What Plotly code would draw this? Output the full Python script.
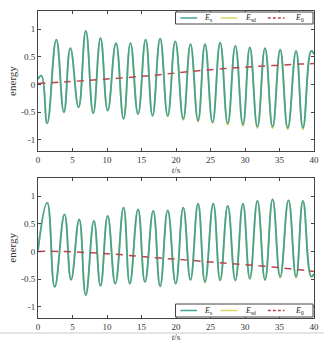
import plotly.graph_objects as go

# ---- data ----
t_top = [0, 0.5, 1.33, 2.65, 3.75, 4.69, 5.88, 6.93, 8.0, 9.06, 10.1, 11.3, 12.4, 13.4, 14.5,
         15.6, 16.6, 17.7, 18.8, 19.9, 21.05, 22.1, 23.2, 24.2, 25.3, 26.4, 27.5, 28.6, 29.7,
         30.7, 31.8, 32.9, 34.0, 35.1, 36.2, 37.4, 38.4, 39.6, 40]
es_top = [0.10, 0.16, -0.70, 0.81, -0.50, 0.66, -0.41, 0.97, -0.52, 0.84, -0.47, 0.75, -0.62,
          0.75, -0.53, 0.81, -0.56, 0.83, -0.56, 0.78, -0.62, 0.73, -0.65, 0.73, -0.68, 0.76,
          -0.70, 0.70, -0.72, 0.67, -0.76, 0.66, -0.76, 0.63, -0.78, 0.61, -0.78, 0.61, 0.55]
esd_top = [0.10, 0.16, -0.70, 0.81, -0.50, 0.66, -0.41, 0.97, -0.52, 0.84, -0.47, 0.75, -0.62,
           0.75, -0.54, 0.81, -0.57, 0.83, -0.58, 0.78, -0.64, 0.73, -0.67, 0.73, -0.70, 0.76,
           -0.73, 0.70, -0.75, 0.67, -0.79, 0.66, -0.79, 0.63, -0.81, 0.61, -0.81, 0.61, 0.55]
t0_top = [0, 4, 10, 17, 20, 27, 32, 38, 40]
e0_top = [0.02, 0.05, 0.10, 0.17, 0.21, 0.29, 0.33, 0.37, 0.38]

t_bot = [0, 1.33, 2.42, 3.84, 4.79, 5.97, 6.92, 8.1, 9.06, 10.1, 11.2, 12.4, 13.3, 14.5, 15.5,
         16.7, 17.7, 18.8, 19.96, 21.05, 22.1, 23.2, 24.2, 25.4, 26.4, 27.5, 28.6, 29.7, 30.7,
         31.8, 32.9, 34.0, 35.1, 36.3, 37.4, 38.4, 39.6, 40]
es_bot = [0.02, 0.88, -0.64, 0.67, -0.51, 0.58, -0.79, 0.55, -0.62, 0.64, -0.58, 0.79, -0.58,
          0.76, -0.55, 0.73, -0.63, 0.74, -0.58, 0.79, -0.51, 0.86, -0.55, 0.86, -0.52, 0.82,
          -0.52, 0.86, -0.49, 0.91, -0.51, 0.94, -0.46, 0.92, -0.46, 0.91, -0.45, -0.40]
esd_bot = [0.02, 0.88, -0.64, 0.67, -0.51, 0.58, -0.79, 0.55, -0.62, 0.64, -0.58, 0.79, -0.58,
           0.76, -0.55, 0.73, -0.63, 0.74, -0.58, 0.79, -0.52, 0.86, -0.56, 0.86, -0.53, 0.82,
           -0.53, 0.86, -0.50, 0.91, -0.52, 0.94, -0.47, 0.92, -0.47, 0.91, -0.46, -0.40]
t0_bot = [0, 3, 10, 17.7, 20, 27, 34, 38.6, 40]
e0_bot = [0.0, 0.0, -0.04, -0.12, -0.14, -0.21, -0.28, -0.34, -0.36]

x_ticks = [0, 5, 10, 15, 20, 25, 30, 35, 40]
x_labels = ["0", "5", "10", "15", "20", "25", "30", "35", "40"]
y_ticks = [-1, -0.5, 0, 0.5, 1]
y_labels = ["-1", "-0.5", "0", "0.5", "1"]
names = ["<i>E</i><sub>s</sub>", "<i>E</i><sub>sd</sub>", "<i>E</i><sub>0</sub>"]

# ---- styles ----
C_S = "#43a394"
C_SD = "#dcd566"
C_0 = "#b8474a"
FONT = "Liberation Serif"
W, H = 324, 346
ML, MR, MT, MB = 38, 5, 11, 28
PW, PH = W - ML - MR, H - MT - MB

fig = go.Figure()

for row, (t, es, esd, t0, e0) in enumerate([
        (t_top, es_top, esd_top, t0_top, e0_top),
        (t_bot, es_bot, esd_bot, t0_bot, e0_bot)]):
    xa = "x" if row == 0 else "x2"
    ya = "y" if row == 0 else "y2"
    fig.add_trace(go.Scatter(x=t, y=esd, mode="lines", name=names[1], xaxis=xa, yaxis=ya,
                             line=dict(color=C_SD, width=1.8, shape="spline", smoothing=1.3)))
    fig.add_trace(go.Scatter(x=t, y=es, mode="lines", name=names[0], xaxis=xa, yaxis=ya,
                             line=dict(color=C_S, width=1.8, shape="spline", smoothing=1.3)))
    fig.add_trace(go.Scatter(x=t0, y=e0, mode="lines", name=names[2], xaxis=xa, yaxis=ya,
                             line=dict(color=C_0, width=1.5, dash="7px,6px", shape="spline")))

axis_common = dict(showline=True, linecolor="#444", linewidth=1, mirror="ticks",
                   ticks="inside", ticklen=3, tickcolor="#444", showgrid=False,
                   zeroline=False, tickfont=dict(family=FONT, size=9, color="#333"))

fig.update_layout(
    width=W, height=H,
    margin=dict(l=ML, r=MR, t=MT, b=MB),
    paper_bgcolor="white", plot_bgcolor="white",
    font=dict(family=FONT, size=9, color="#333"),
    showlegend=False,
    xaxis=dict(domain=[0, 1], anchor="y", range=[0, 40], tickvals=x_ticks, ticktext=x_labels,
               title=dict(text="<i>t</i>/s", standoff=2, font=dict(size=9)), **axis_common),
    yaxis=dict(domain=[0.544, 1], anchor="x", range=[-1.2, 1.33], tickvals=y_ticks,
               ticktext=y_labels, title=dict(text="energy", standoff=2, font=dict(size=11)),
               **axis_common),
    xaxis2=dict(domain=[0, 1], anchor="y2", range=[0, 40], tickvals=x_ticks, ticktext=x_labels,
                title=dict(text="<i>t</i>/s", standoff=2, font=dict(size=9)), **axis_common),
    yaxis2=dict(domain=[0, 0.457], anchor="x2", range=[-1.2, 1.33], tickvals=y_ticks,
                ticktext=y_labels, title=dict(text="energy", standoff=2, font=dict(size=11)),
                **axis_common),
)


def px_x(p):
    return (p - ML) / PW


def px_y(p):
    return (H - MB - p) / PH


def add_legend(top_px, bottom_px):
    fig.add_shape(type="rect", xref="paper", yref="paper",
                  x0=px_x(178), x1=px_x(318), y0=px_y(bottom_px), y1=px_y(top_px),
                  line=dict(color="#444", width=1), fillcolor="white", layer="above")
    ymid = px_y((top_px + bottom_px) / 2)
    items = [(183, 200, 205, C_S, "solid", names[0]),
             (224, 241, 247, C_SD, "solid", names[1]),
             (272, 289, 298, C_0, "dash", names[2])]
    for x0, x1, xt, col, dash, label in items:
        fig.add_shape(type="line", xref="paper", yref="paper",
                      x0=px_x(x0), x1=px_x(x1), y0=ymid, y1=ymid, layer="above",
                      line=dict(color=col, width=1.5, dash="3px,2px" if dash == "dash" else "solid"))
        fig.add_annotation(xref="paper", yref="paper", x=px_x(xt), y=ymid,
                           xanchor="left", yanchor="middle", showarrow=False,
                           text=label, font=dict(family=FONT, size=8, color="#222"))


add_legend(12, 24)
add_legend(304, 317)

fig.add_shape(type="line", xref="paper", yref="paper", x0=-0.2, x1=1.1,
              y0=px_y(333), y1=px_y(333), line=dict(color="#c9c9c9", width=1))

fig.write_html("out.html")
